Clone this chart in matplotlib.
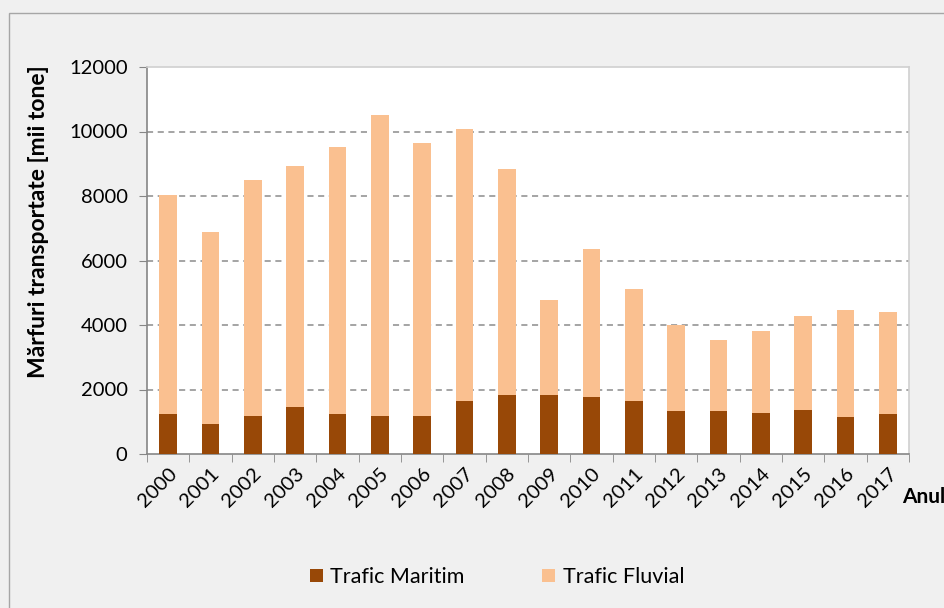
import matplotlib

matplotlib.use("Agg")
import matplotlib.pyplot as plt
import numpy as np
from matplotlib.patches import Rectangle

plt.rcParams["font.family"] = ["Lato", "DejaVu Sans"]

years = [str(y) for y in range(2000, 2018)]
maritim = [1250, 920, 1180, 1450, 1240, 1180, 1180, 1640, 1820,
           1820, 1770, 1640, 1330, 1330, 1270, 1360, 1150, 1240]
total = [8040, 6880, 8490, 8920, 9510, 10500, 9630, 10070, 8850,
         4760, 6370, 5130, 4010, 3550, 3800, 4290, 4480, 4390]
fluvial = [t - m for t, m in zip(total, maritim)]

C_MAR = "#984807"
C_FLU = "#FAC090"
BG = "#f0f0f0"

fig = plt.figure(figsize=(9.45, 6.08), dpi=100, facecolor=BG)
fig.patches.append(Rectangle((9 / 945, -0.01), 1.0, 1 - 13 / 608 + 0.01,
                             transform=fig.transFigure, fill=False,
                             edgecolor="#a6a6a6", lw=1.0))
ax = fig.add_axes([147 / 945, 154 / 608, 762 / 945, 387 / 608])
ax.set_facecolor("white")

x = np.arange(len(years))
ax.bar(x, maritim, width=0.41, color=C_MAR, label="Trafic Maritim", zorder=3)
ax.bar(x, fluvial, width=0.41, bottom=maritim, color=C_FLU,
       label="Trafic Fluvial", zorder=3)

ax.set_xlim(-0.5, len(years) - 0.5)
ax.set_ylim(0, 12000)
ax.set_yticks(range(0, 12001, 2000))
ax.set_xticks(x)
ax.set_xticklabels(years, rotation=45, ha="right", rotation_mode="anchor",
                   fontsize=14.5)
ax.set_xticks(np.arange(-0.5, len(years)), minor=True)
ax.tick_params(axis="x", which="major", length=0, pad=8)
ax.tick_params(axis="x", which="minor", length=6, color="#868686",
               direction="out")
ax.tick_params(axis="y", length=6, color="#868686", labelsize=14.5, pad=8)

for y in range(2000, 12000, 2000):
    ax.axhline(y, color="#8c8c8c", lw=1.1, ls=(0, (4, 3)), zorder=1)

for s in ("left", "bottom"):
    ax.spines[s].set_color("#868686")
    ax.spines[s].set_linewidth(1.2)
for s in ("top", "right"):
    ax.spines[s].set_color("#d0d0d0")
    ax.spines[s].set_linewidth(1.2)

ax.set_ylabel("Mărfuri transportate [mii tone]", fontsize=16.5,
              fontweight="bold")
ax.yaxis.set_label_coords(-0.128, 0.60)
fig.text(902 / 945, 1 - 497 / 608, "Anul", fontsize=15, fontweight="bold",
         va="center", ha="left")

fig.legend(loc="center", bbox_to_anchor=(497 / 945, 1 - 577 / 608), ncol=2,
           frameon=False, fontsize=15.5, handlelength=0.6, handleheight=0.6,
           columnspacing=3.6, handletextpad=0.35)

fig.savefig("out.png", dpi=100, facecolor=BG)
